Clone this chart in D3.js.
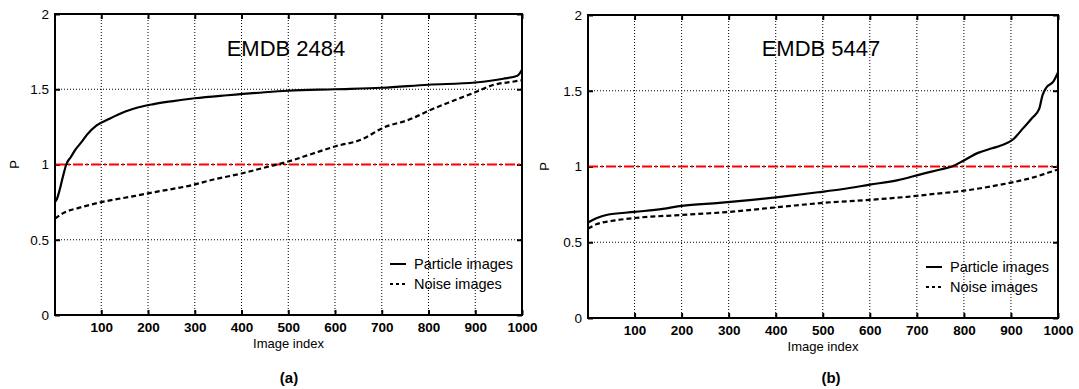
<!DOCTYPE html>
<meta charset="utf-8">
<script src="https://cdn.jsdelivr.net/npm/d3@7"></script>
<style>
body { margin: 0; background: #fff; }
text { font-family: "Liberation Sans", Arial, sans-serif; }
.xax .tick text { font-weight: bold; font-size: 13.5px; }
.yax .tick text { font-size: 13.5px; }
.grid line { stroke: #000; stroke-dasharray: 1,2; stroke-width: 1; }
</style>
<body>
<script>
// x positions (image index) and values
var aPartX = [1, 5, 10, 18, 25, 35, 45, 58, 70, 90, 115, 150, 180, 210, 250, 300, 370, 450, 500, 600, 700, 800, 900, 960, 990, 1000];
var aPartY = [0.75, 0.77, 0.82, 0.92, 1.0, 1.05, 1.1, 1.15, 1.2, 1.26, 1.3, 1.35, 1.38, 1.4, 1.42, 1.44, 1.46, 1.48, 1.49, 1.5, 1.51, 1.53, 1.545, 1.57, 1.59, 1.63];
var aNoiseX = [1, 20, 50, 100, 170, 220, 290, 340, 400, 450, 500, 550, 600, 660, 700, 760, 810, 850, 900, 940, 980, 1000];
var aNoiseY = [0.64, 0.68, 0.71, 0.75, 0.79, 0.82, 0.86, 0.9, 0.94, 0.98, 1.02, 1.07, 1.12, 1.17, 1.24, 1.3, 1.37, 1.42, 1.48, 1.53, 1.55, 1.56];
var bPartX = [1, 20, 40, 100, 160, 200, 280, 350, 410, 490, 540, 600, 660, 710, 750, 775, 800, 830, 860, 880, 905, 925, 945, 960, 967, 975, 990, 1000];
var bPartY = [0.63, 0.66, 0.68, 0.7, 0.72, 0.74, 0.76, 0.78, 0.8, 0.83, 0.85, 0.88, 0.91, 0.95, 0.98, 1.0, 1.04, 1.09, 1.12, 1.14, 1.18, 1.25, 1.32, 1.38, 1.47, 1.52, 1.56, 1.62];
var bNoiseX = [1, 20, 50, 100, 200, 300, 400, 500, 600, 680, 740, 800, 860, 910, 950, 980, 1000];
var bNoiseY = [0.59, 0.62, 0.64, 0.66, 0.68, 0.7, 0.73, 0.76, 0.78, 0.8, 0.82, 0.84, 0.87, 0.9, 0.93, 0.96, 0.98];

var xTicks = [100, 200, 300, 400, 500, 600, 700, 800, 900, 1000];
var yTicks = [0, 0.5, 1, 1.5, 2];
var seriesNames = ["Particle images", "Noise images"];

var svg = d3.select("body").append("svg")
    .attr("width", 1079).attr("height", 389);

function panel(opt) {
    var x = d3.scaleLinear().domain([1, 1000]).range([opt.left, opt.right]);
    var y = d3.scaleLinear().domain([0, 2]).range([opt.bottom, opt.top]);
    var g = svg.append("g");

    // grid
    var grid = g.append("g").attr("class", "grid");
    grid.selectAll(".vx").data(xTicks.slice(0, -1)).enter().append("line")
        .attr("x1", function(d) { return x(d); }).attr("x2", function(d) { return x(d); })
        .attr("y1", opt.top).attr("y2", opt.bottom);
    grid.selectAll(".hy").data([0.5, 1, 1.5]).enter().append("line")
        .attr("y1", function(d) { return y(d); }).attr("y2", function(d) { return y(d); })
        .attr("x1", opt.left).attr("x2", opt.right);

    // axes
    g.append("g").attr("class", "xax").attr("transform", "translate(0," + opt.bottom + ")")
        .call(d3.axisBottom(x).tickValues(xTicks).tickSize(-5).tickPadding(7).tickFormat(d3.format("d")));
    g.append("g").attr("transform", "translate(0," + opt.top + ")")
        .call(d3.axisTop(x).tickValues(xTicks).tickSize(-5).tickFormat(""));
    g.append("g").attr("class", "yax").attr("transform", "translate(" + opt.left + ",0)")
        .call(d3.axisLeft(y).tickValues(yTicks).tickSize(-5).tickPadding(6).tickFormat(d3.format("")));
    g.append("g").attr("transform", "translate(" + opt.right + ",0)")
        .call(d3.axisRight(y).tickValues(yTicks).tickSize(-5).tickFormat(""));
    g.selectAll(".domain").remove();
    g.selectAll(".tick line").attr("stroke", "#000").attr("stroke-width", 2);
    g.selectAll(".tick text").attr("fill", "#000");

    // threshold
    g.append("line")
        .attr("x1", opt.left).attr("x2", opt.right)
        .attr("y1", y(1)).attr("y2", y(1))
        .attr("stroke", "#ff0000").attr("stroke-width", 2)
        .attr("stroke-dasharray", "10,3,2,3");

    var line = d3.line().x(function(d) { return x(d[0]); }).y(function(d) { return y(d[1]); })
        .curve(d3.curveMonotoneX);
    g.append("path").datum(d3.zip(opt.nx, opt.ny)).attr("d", line)
        .attr("fill", "none").attr("stroke", "#000").attr("stroke-width", 2.2)
        .attr("stroke-dasharray", "5,3");
    g.append("path").datum(d3.zip(opt.px, opt.py)).attr("d", line)
        .attr("fill", "none").attr("stroke", "#000").attr("stroke-width", 2.2);

    // frame
    g.append("rect").attr("x", opt.left).attr("y", opt.top)
        .attr("width", opt.right - opt.left).attr("height", opt.bottom - opt.top)
        .attr("fill", "none").attr("stroke", "#000").attr("stroke-width", 2);

    // title
    g.append("text").attr("x", opt.titleX).attr("y", 56)
        .attr("text-anchor", "middle").style("font-size", "22px").text(opt.title);

    // legend
    seriesNames.forEach(function(name, i) {
        var ly = opt.legY + i * 20;
        g.append("line").attr("x1", opt.legX).attr("x2", opt.legX + 16)
            .attr("y1", ly).attr("y2", ly)
            .attr("stroke", "#000").attr("stroke-width", 2)
            .attr("stroke-dasharray", i ? "3,3" : null);
        g.append("text").attr("x", opt.legX + 24).attr("y", ly + 5)
            .style("font-size", "14.5px").text(name);
    });

    // labels
    g.append("text").attr("x", (opt.left + opt.right) / 2).attr("y", opt.bottom + 33)
        .attr("text-anchor", "middle").style("font-size", "13px").text("Image index");
    g.append("text").attr("transform", "translate(" + opt.pX + "," + y(1) + ") rotate(-90)")
        .attr("text-anchor", "middle").style("font-size", "13px").text("P");
    g.append("text").attr("x", opt.capX).attr("y", 383)
        .attr("text-anchor", "middle").style("font-size", "15px").style("font-weight", "bold").text(opt.cap);
}

panel({left: 55, right: 522, top: 14, bottom: 315, px: aPartX, py: aPartY, nx: aNoiseX, ny: aNoiseY,
       title: "EMDB 2484", titleX: 286, legX: 390, legY: 264, pX: 19, capX: 289, cap: "(a)"});
panel({left: 588, right: 1058, top: 15, bottom: 318, px: bPartX, py: bPartY, nx: bNoiseX, ny: bNoiseY,
       title: "EMDB 5447", titleX: 821, legX: 926, legY: 267, pX: 549, capX: 831, cap: "(b)"});
</script>
</body>
</html>
